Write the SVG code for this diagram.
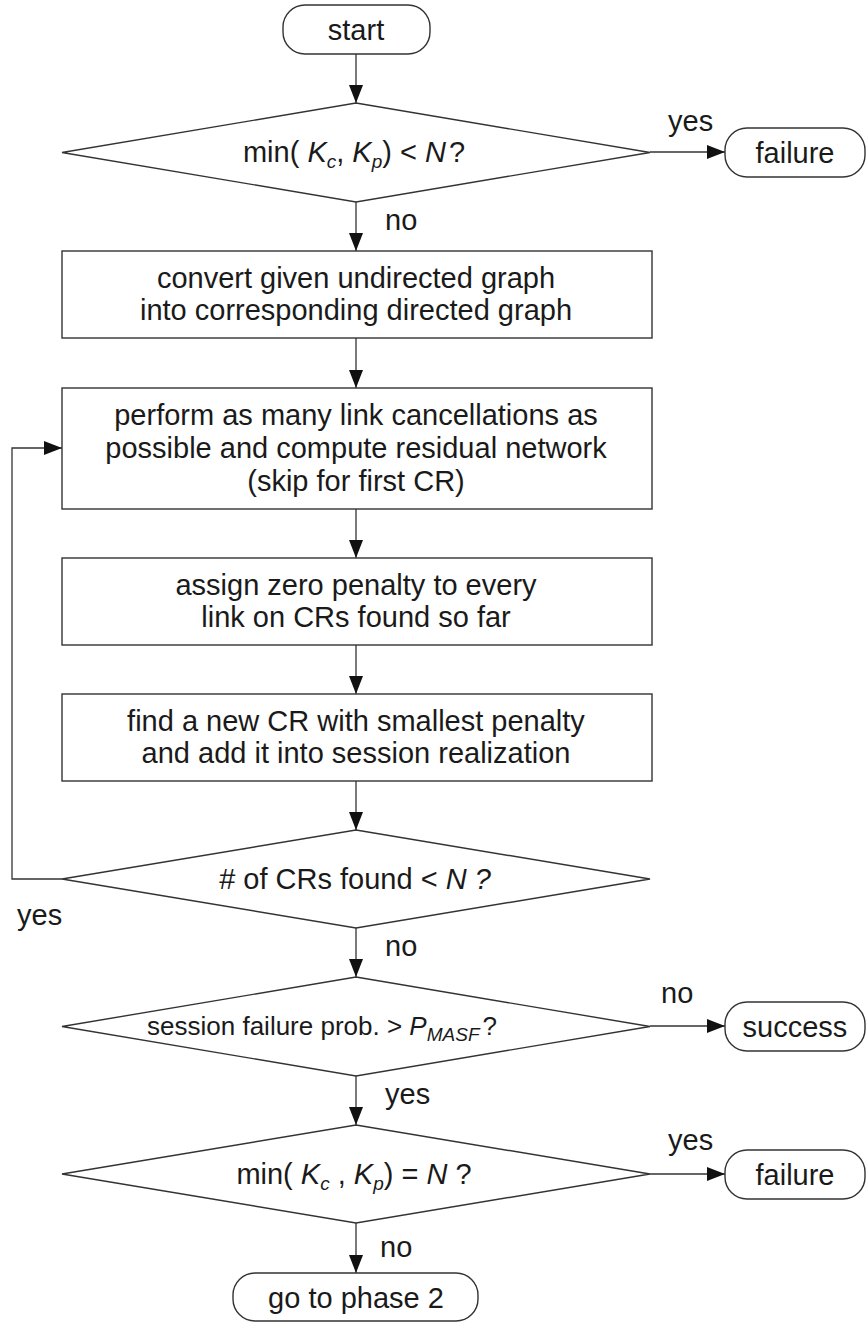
<svg xmlns="http://www.w3.org/2000/svg" width="866" height="1323" viewBox="0 0 866 1323">
<style>
text{font-family:"Liberation Sans",Arial,sans-serif;font-size:29px;fill:#1a1a1a}
.t{text-anchor:middle}
.i{font-style:italic}
.s{font-size:19px;font-style:italic}
.shape{fill:#fff;stroke:#333;stroke-width:1.4}
.ln{fill:none;stroke:#333;stroke-width:1.3}
</style>
<defs>
<marker id="ah" markerWidth="18" markerHeight="14" refX="18" refY="7" orient="auto" markerUnits="userSpaceOnUse">
<path d="M0,0 L18,7 L0,14 Z" fill="#111"/>
</marker>
</defs>
<rect width="866" height="1323" fill="#fff"/>
<g id="connectors">
<line class="ln" x1="356" y1="54" x2="356" y2="103" marker-end="url(#ah)"/>
<line class="ln" x1="650" y1="152" x2="725" y2="152" marker-end="url(#ah)"/>
<line class="ln" x1="356" y1="202" x2="356" y2="251" marker-end="url(#ah)"/>
<line class="ln" x1="356" y1="338" x2="356" y2="388" marker-end="url(#ah)"/>
<line class="ln" x1="356" y1="509" x2="356" y2="558" marker-end="url(#ah)"/>
<line class="ln" x1="356" y1="645" x2="356" y2="694" marker-end="url(#ah)"/>
<line class="ln" x1="356" y1="781" x2="356" y2="830" marker-end="url(#ah)"/>
<polyline class="ln" points="62,879 12,879 12,448 62,448" marker-end="url(#ah)"/>
<line class="ln" x1="356" y1="928" x2="356" y2="977" marker-end="url(#ah)"/>
<line class="ln" x1="650" y1="1026" x2="725" y2="1026" marker-end="url(#ah)"/>
<line class="ln" x1="356" y1="1076" x2="356" y2="1125" marker-end="url(#ah)"/>
<line class="ln" x1="650" y1="1174" x2="725" y2="1174" marker-end="url(#ah)"/>
<line class="ln" x1="356" y1="1223" x2="356" y2="1273" marker-end="url(#ah)"/>
<text x="668" y="131">yes</text>
<text x="385" y="230">no</text>
<text x="17" y="925">yes</text>
<text x="385" y="956">no</text>
<text x="661" y="1003">no</text>
<text x="385" y="1104">yes</text>
<text x="668" y="1150">yes</text>
<text x="380" y="1257">no</text>
</g>
<g id="start">
<rect class="shape" x="283" y="5" width="147" height="49" rx="22" ry="22"/>
<text class="t" x="356" y="40">start</text>
</g>
<g id="check1">
<polygon class="shape" points="356,103 650,152.5 356,202 62,152.5"/>
<text class="t" x="354" y="162">min( <tspan class="i">K</tspan><tspan class="s" dy="6">c</tspan><tspan dy="-6">, </tspan><tspan class="i">K</tspan><tspan class="s" dy="6">p</tspan><tspan dy="-6">) &lt; </tspan><tspan class="i">N</tspan><tspan dx="3">?</tspan></text>
</g>
<g id="failure1">
<rect class="shape" x="725" y="128" width="140" height="49" rx="22" ry="22"/>
<text class="t" x="795" y="163">failure</text>
</g>
<g id="convert">
<rect class="shape" x="62" y="251" width="590" height="87"/>
<text class="t" x="356" y="288">convert given undirected graph</text>
<text class="t" x="356" y="320">into corresponding directed graph</text>
</g>
<g id="cancel">
<rect class="shape" x="62" y="388" width="590" height="121"/>
<text class="t" x="356" y="425">perform as many link cancellations as</text>
<text class="t" x="356" y="458">possible and compute residual network</text>
<text class="t" x="356" y="491">(skip for first CR)</text>
</g>
<g id="assign">
<rect class="shape" x="62" y="558" width="590" height="87"/>
<text class="t" x="356" y="595">assign zero penalty to every</text>
<text class="t" x="356" y="627">link on CRs found so far</text>
</g>
<g id="find">
<rect class="shape" x="62" y="694" width="590" height="87"/>
<text class="t" x="356" y="731">find a new CR with smallest penalty</text>
<text class="t" x="356" y="763">and add it into session realization</text>
</g>
<g id="check2">
<polygon class="shape" points="356,830 650,879 356,928 62,879"/>
<text class="t" x="355" y="889"># of CRs found &lt; <tspan class="i">N ?</tspan></text>
</g>
<g id="check3">
<polygon class="shape" points="356,977 650,1026.5 356,1076 62,1026.5"/>
<text class="t" x="322" y="1035" style="font-size:26px">session failure prob. &gt; <tspan class="i">P</tspan><tspan class="s" dy="6">MASF</tspan><tspan dy="-6" dx="3">?</tspan></text>
</g>
<g id="success">
<rect class="shape" x="725" y="1002" width="140" height="49" rx="22" ry="22"/>
<text class="t" x="795" y="1037">success</text>
</g>
<g id="check4">
<polygon class="shape" points="356,1125 650,1174 356,1223 62,1174"/>
<text class="t" x="354" y="1184">min( <tspan class="i">K</tspan><tspan class="s" dy="6">c</tspan><tspan dy="-6"> , </tspan><tspan class="i">K</tspan><tspan class="s" dy="6">p</tspan><tspan dy="-6">) = </tspan><tspan class="i">N</tspan> ?</text>
</g>
<g id="failure2">
<rect class="shape" x="725" y="1150" width="140" height="49" rx="22" ry="22"/>
<text class="t" x="795" y="1185">failure</text>
</g>
<g id="phase2">
<rect class="shape" x="233" y="1273" width="245" height="48" rx="22" ry="22"/>
<text class="t" x="356" y="1308">go to phase 2</text>
</g>
</svg>
